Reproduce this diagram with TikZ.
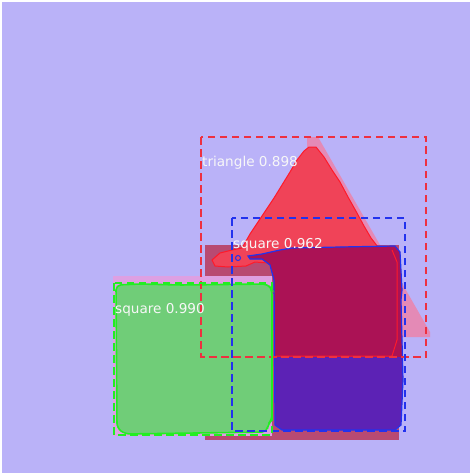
\documentclass[tikz,border=0pt]{standalone}
\usepackage{fontspec}
\setmainfont{DejaVu Sans}
\definecolor{bg}{HTML}{BAB2F8}
\definecolor{gtpink}{HTML}{E48AB6}
\definecolor{gtlight}{HTML}{DEA0E2}
\definecolor{gtdark}{HTML}{B84A72}
\definecolor{redmask}{HTML}{F04358}
\definecolor{redline}{HTML}{FF1A2A}
\definecolor{magmask}{HTML}{AB1255}
\definecolor{purpmask}{HTML}{5C22B5}
\definecolor{bluebox}{HTML}{2232EE}
\definecolor{redbox}{HTML}{EE3040}
\definecolor{greenmask}{HTML}{70CD78}
\definecolor{greenline}{HTML}{22EE22}
\tikzset{
  boxline/.style={line width=1.8pt, dash pattern=on 7.5pt off 4.5pt},
  lbl/.style={text=white!94!gray, font=\fontsize{13.6}{14}\selectfont, inner sep=0pt, anchor=base west},
}
\begin{document}
\begin{tikzpicture}[x=1pt,y=-1pt]
\useasboundingbox (0,0) rectangle (472,476);
\fill[white] (0,0) rectangle (472,476);
\fill[bg] (2,2) rectangle (470,473);
% ground truth triangle (light pink)
\fill[gtpink] (307,137) -- (318,137) -- (430,332) -- (430,337) -- (398,337) -- (258,245)
  -- (302,158) -- (307,148) -- cycle;
% ground truth rects
\fill[gtdark] (205,245) rectangle (399,440);
\fill[gtlight] (113,276) rectangle (272,436);
% red triangle mask
\fill[redmask, draw=redline, line width=1pt]
  (309,147) -- (316,147) -- (324,157) -- (332,170) -- (340,182) -- (348,197)
  -- (357,213) -- (364,226) -- (371,238) -- (378,247) -- (392,258) -- (398,285)
  -- (398,340) -- (392,356) -- (276,356) -- (276,270) -- (268,263) -- (255,262)
  -- (246,266) -- (228,267) -- (215,266) -- (212,260) -- (220,253) -- (232,250)
  -- (242,248) -- (250,234) -- (258,222) -- (266,210) -- (274,198) -- (282,185)
  -- (290,172) -- (297,160) -- (304,151) -- cycle;
% square mask (purple) and overlap (magenta)
\def\sqpath{(262,254) -- (280,250) -- (292,248) -- (340,247) -- (395,246) -- (400,252) -- (402,290)
  -- (401,300) -- (403,380) -- (401,425) -- (395,430) -- (282,430) -- (275,425)
  -- (274,280) -- (270,265) -- (262,259) -- (250,259) -- (248,256) -- cycle}
\fill[purpmask] \sqpath;
\begin{scope}
  \clip (0,0) rectangle (472,356);
  \fill[magmask] \sqpath;
\end{scope}
\draw[redline, line width=1pt] (276,356) -- (392,356) -- (397,340) -- (397,262) -- (392,250);
\draw[bluebox, line width=1.2pt] \sqpath;
\draw[bluebox, line width=1pt] (238,258) circle (2.5pt);
% green mask
\fill[greenmask, draw=greenline, line width=1.6pt, rounded corners=5pt]
  (116,285) -- (140,284) -- (180,285) -- (268,284) -- (272,290) -- (272,420)
  -- (268,424) -- (267,432) -- (125,434) -- (117,428) -- cycle;
% boxes
\draw[redbox, boxline] (201,137) rectangle (426,357);
\draw[bluebox, boxline] (232,218) rectangle (405,431);
\draw[greenline, boxline] (114,283) rectangle (272,435);
% labels
\node[lbl] (t1) at (202,166) {triangle 0.898};
\node[lbl] (t2) at (233,248) {square 0.962};
\node[lbl] (t3) at (115,313) {square 0.990};
\end{tikzpicture}
\end{document}
